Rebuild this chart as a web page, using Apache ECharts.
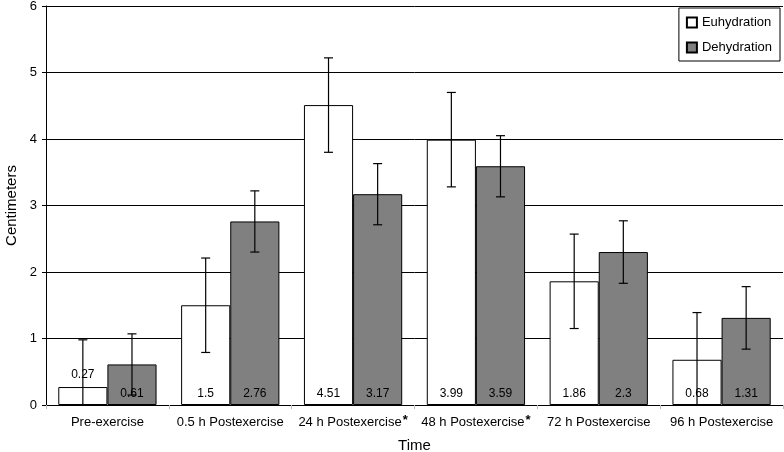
<!DOCTYPE html>
<html>
<head>
<meta charset="utf-8">
<script src="https://cdn.jsdelivr.net/npm/echarts@6/dist/echarts.min.js"></script>
<style>html,body{margin:0;padding:0;background:#fff}#c{width:784px;height:452px}</style>
</head>
<body>
<div id="c"></div>
<script>
var categories = ['Pre-exercise', '0.5 h Postexercise', '24 h Postexercise*', '48 h Postexercise*', '72 h Postexercise', '96 h Postexercise'];
var euhydration = [0.27, 1.5, 4.51, 3.99, 1.86, 0.68];
var dehydration = [0.61, 2.76, 3.17, 3.59, 2.3, 1.31];
var euhydrationErr = [0.71, 0.71, 0.71, 0.71, 0.71, 0.71];
var dehydrationErr = [0.46, 0.46, 0.46, 0.46, 0.47, 0.47];
var yTicks = [0, 1, 2, 3, 4, 5, 6];

var FONT = 'Liberation Sans, Arial, sans-serif';

function barData(vals) {
  return vals.map(function (v) {
    if (v < 0.4) {
      return { value: v, label: { position: 'top', distance: 6 } };
    }
    return v;
  });
}

var errData = [];
euhydration.forEach(function (v, i) { errData.push([i, v - euhydrationErr[i], v + euhydrationErr[i], 0]); });
dehydration.forEach(function (v, i) { errData.push([i, v - dehydrationErr[i], v + dehydrationErr[i], 1]); });

function renderErr(params, api) {
  var idx = api.value(0);
  var lo = api.value(1), hi = api.value(2), s = api.value(3);
  var band = api.size([1, 0])[0];
  var offset = (s === 0 ? -0.2 : 0.2) * band;
  var clipped = lo < 0;
  var pHi = api.coord([idx, hi]);
  var pLo = api.coord([idx, Math.max(0, lo)]);
  var x = pHi[0] + offset;
  var half = 4.5;
  var st = { stroke: '#000', lineWidth: 1.2 };
  var children = [
    { type: 'line', shape: { x1: x, y1: pHi[1], x2: x, y2: pLo[1] }, style: st },
    { type: 'line', shape: { x1: x - half, y1: pHi[1], x2: x + half, y2: pHi[1] }, style: st }
  ];
  if (!clipped) {
    children.push({ type: 'line', shape: { x1: x - half, y1: pLo[1], x2: x + half, y2: pLo[1] }, style: st });
  }
  return { type: 'group', children: children };
}

var labelStyle = { show: true, position: 'insideBottom', distance: 5, color: '#000', fontSize: 12, fontFamily: FONT };

var chart = echarts.init(document.getElementById('c'));
chart.setOption({
  animation: false,
  textStyle: { fontFamily: FONT },
  grid: { left: 46, right: 1, top: 6, bottom: 47, containLabel: false, outerBoundsMode: 'none' },
  legend: {
    right: 4, top: 8, orient: 'vertical',
    icon: 'rect',
    itemWidth: 10, itemHeight: 10, itemGap: 12,
    padding: [8, 8, 7, 7],
    backgroundColor: '#fff',
    borderColor: '#000', borderWidth: 1,
    textStyle: { fontSize: 13, color: '#000', fontFamily: FONT },
    data: ['Euhydration', 'Dehydration']
  },
  xAxis: {
    type: 'category',
    data: categories,
    name: 'Time', nameLocation: 'middle', nameGap: 33,
    nameTextStyle: { fontSize: 15, color: '#000', fontFamily: FONT },
    axisLine: { show: true, lineStyle: { color: '#000', width: 1 } },
    axisTick: { show: true, length: 4, lineStyle: { color: '#bbb' } },
    axisLabel: {
      margin: 9, color: '#000', fontSize: 13, fontFamily: FONT, interval: 0, lineHeight: 17,
      formatter: function (v) {
        if (v.charAt(v.length - 1) === '*') return v.slice(0, -1) + '{s|*}';
        return v;
      },
      rich: { s: { fontSize: 13, lineHeight: 13, fontWeight: 'bold', verticalAlign: 'top', padding: [0, 0, 0, 1], color: '#000' } }
    }
  },
  yAxis: {
    type: 'value',
    min: yTicks[0], max: yTicks[yTicks.length - 1], interval: 1,
    name: 'Centimeters', nameLocation: 'middle', nameGap: 27, nameRotate: 90,
    nameTextStyle: { fontSize: 15, color: '#000', fontFamily: FONT },
    axisLine: { show: true, lineStyle: { color: '#000', width: 1 } },
    axisTick: { show: true, length: 4, lineStyle: { color: '#000' } },
    axisLabel: { margin: 9, color: '#000', fontSize: 13, fontFamily: FONT },
    splitLine: { show: true, lineStyle: { color: '#000', width: 1 } }
  },
  series: [
    {
      name: 'Euhydration', type: 'bar', data: barData(euhydration),
      barGap: '0%', barCategoryGap: '20%',
      itemStyle: { color: '#fff', borderColor: '#000', borderWidth: 1 },
      label: labelStyle, z: 2
    },
    {
      name: 'Dehydration', type: 'bar', data: barData(dehydration),
      barGap: '0%', barCategoryGap: '20%',
      itemStyle: { color: '#808080', borderColor: '#000', borderWidth: 1 },
      label: labelStyle, z: 2
    },
    {
      type: 'custom', name: 'err', renderItem: renderErr, data: errData,
      encode: { x: 0, y: [1, 2] }, z: 3, silent: true
    }
  ]
});
</script>
</body>
</html>
